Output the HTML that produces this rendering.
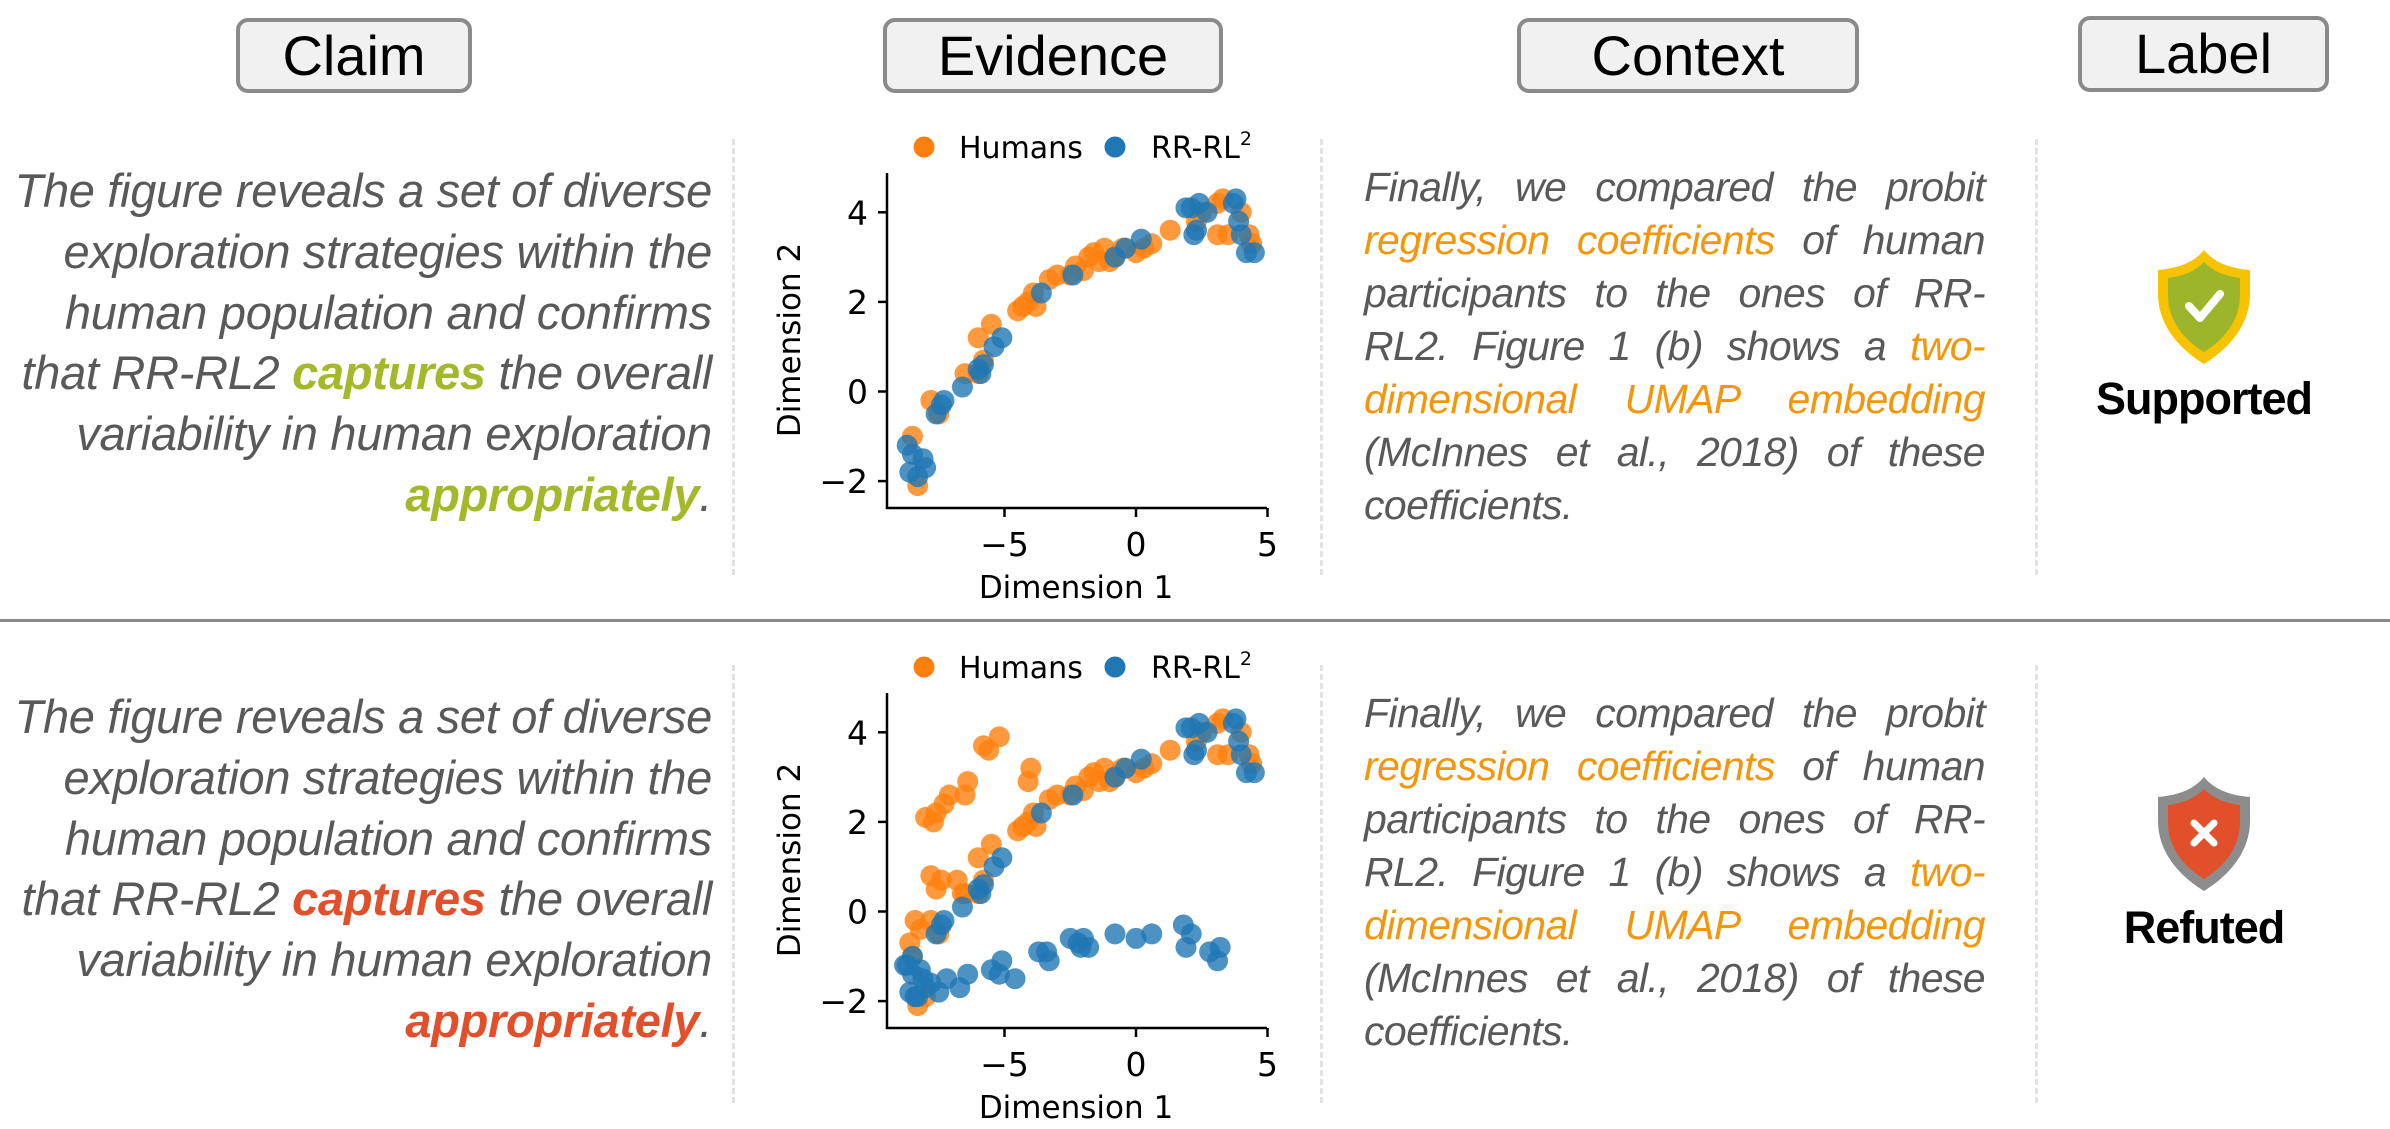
<!DOCTYPE html>
<html><head><meta charset="utf-8"><style>
body{margin:0;width:2390px;height:1129px;background:#fff;position:relative;overflow:hidden;font-family:"Liberation Sans",sans-serif}
.hb{position:absolute;box-sizing:border-box;border:4px solid #8a8a8a;border-radius:12px;background:#f1f1f1;text-align:center;font-size:56px;line-height:68px;color:#000}
.dash{position:absolute;width:0;border-left:3px dashed #e2e2e2}
.claim{position:absolute;right:1678px;font-style:italic;font-size:47px;color:#595959;letter-spacing:-0.3px;white-space:nowrap;line-height:60px}
.g{color:#a4b82a;font-weight:bold}.r{color:#e2502b;font-weight:bold}
.ctx{position:absolute;left:1364px;width:621px;font-style:italic;font-size:41px;color:#595959;line-height:53px;letter-spacing:-0.6px}
.ctx div{text-align:justify;text-align-last:justify;white-space:nowrap;height:53px}
.ctx div.l{text-align-last:left}
.o{color:#f3960b}
.lab{position:absolute;width:300px;left:2054px;text-align:center;font-weight:bold;font-size:45px;letter-spacing:-1px;color:#000}
</style></head><body>
<div class="hb" style="left:236px;top:18px;width:236px;height:75px">Claim</div>
<div class="hb" style="left:883px;top:18px;width:340px;height:75px">Evidence</div>
<div class="hb" style="left:1517px;top:18px;width:342px;height:75px">Context</div>
<div class="hb" style="left:2078px;top:16px;width:251px;height:76px">Label</div>

<div class="dash" style="left:732px;top:139px;height:436px"></div>
<div class="dash" style="left:1320px;top:139px;height:436px"></div>
<div class="dash" style="left:2035px;top:139px;height:436px"></div>
<div class="dash" style="left:732px;top:665px;height:438px"></div>
<div class="dash" style="left:1320px;top:665px;height:438px"></div>
<div class="dash" style="left:2035px;top:665px;height:438px"></div>
<div style="position:absolute;left:0;top:619px;width:2390px;height:3px;background:#8a8a8a"></div>

<div id="c1"></div><div id="c2"></div>

<svg style="position:absolute;left:2156px;top:248px" width="96" height="118" viewBox="0 0 96 118">
<path d="M48 2 C58 14 72 20 94 22 L94 46 C94 76 74 100 48 116 C22 100 2 76 2 46 L2 22 C24 20 38 14 48 2Z" fill="#f7c300"/>
<path d="M48 14 C57 23 68 28 84 30 L84 48 C84 72 68 92 48 104 C28 92 12 72 12 48 L12 30 C28 28 39 23 48 14Z" fill="#9db52b"/>
<path d="M33 58 L44 70 L64 46" stroke="#fff" stroke-width="8" fill="none" stroke-linecap="round" stroke-linejoin="round"/>
</svg>
<div class="lab" style="top:373px">Supported</div>
<svg style="position:absolute;left:2156px;top:775px" width="96" height="118" viewBox="0 0 96 118">
<path d="M48 2 C58 14 72 20 94 22 L94 46 C94 76 74 100 48 116 C22 100 2 76 2 46 L2 22 C24 20 38 14 48 2Z" fill="#8c8c8c"/>
<path d="M48 14 C57 23 68 28 84 30 L84 48 C84 72 68 92 48 104 C28 92 12 72 12 48 L12 30 C28 28 39 23 48 14Z" fill="#e2502b"/>
<path d="M38 48 L58 68 M58 48 L38 68" stroke="#fff" stroke-width="7" stroke-linecap="round"/>
</svg>
<div class="lab" style="top:902px">Refuted</div>

<script>
function claim(top,cls){
 var L=["The figure reveals a set of diverse","exploration strategies within the","human population and confirms",
 'that RR-RL2 <span class="'+cls+'">captures</span> the overall',"variability in human exploration",
 '<span class="'+cls+'">appropriately</span>.'];
 for(var i=0;i<6;i++){document.write('<div class="claim" style="top:'+(top+i*60.8-30)+'px">'+L[i]+'</div>');}
}
claim(191,'g');claim(717,'r');
function ctx(top){
 var L=['Finally, we compared the probit','<span class="o">regression coefficients</span> of human','participants to the ones of RR-',
 'RL2. Figure 1 (b) shows a <span class="o">two-</span>','<span class="o">dimensional UMAP embedding</span>','(McInnes et al., 2018) of these'];
 var h='<div class="ctx" style="top:'+(top-26)+'px">';
 for(var i=0;i<6;i++)h+='<div>'+L[i]+'</div>';
 h+='<div class="l">coefficients.</div></div>';document.write(h);
}
ctx(187);ctx(713);

var H=[[-8.3,-2.1],[-8.5,-1],[-7.8,-0.2],[-7.5,-0.5],[-6.5,0.4],[-6,0.4],[-5.8,0.7],[-6,1.2],[-5.5,1.5],[-4.5,1.8],[-4.3,1.9],[-4.1,2],[-3.9,2.2],[-3.8,1.9],[-3.3,2.5],[-3,2.6],[-2.5,2.6],[-2.3,2.8],[-2,2.7],[-1.8,3],[-1.6,3.1],[-1.4,2.9],[-1.2,3.2],[-1,2.9],[-0.8,3],[-0.5,3.2],[0,3.1],[0.3,3.2],[0.6,3.3],[1.3,3.6],[2.3,3.8],[3.1,3.5],[3.3,4.3],[3.1,4.2],[3.5,3.5],[4,4],[4.3,3.5],[4.4,3.3],[2.5,4]];
var B=[[-8.7,-1.2],[-8.5,-1.4],[-8.6,-1.8],[-8.3,-1.9],[-8,-1.7],[-8.1,-1.5],[-7.6,-0.5],[-7.4,-0.3],[-7.3,-0.2],[-6.6,0.1],[-6,0.5],[-5.9,0.4],[-5.8,0.6],[-5.4,1],[-5.1,1.2],[-3.6,2.2],[-2.4,2.6],[-0.8,3],[-0.4,3.2],[0.2,3.4],[1.9,4.1],[2.1,4.1],[2.3,3.6],[2.4,4.2],[2.7,4],[2.2,3.5],[3.7,4.2],[3.8,4.3],[3.9,3.8],[4,3.5],[4.2,3.1],[4.5,3.1]];
var H2=[[-8,2.1],[-7.6,2.2],[-7.3,2.4],[-7.1,2.6],[-6.5,2.6],[-6.4,2.9],[-5.8,3.7],[-5.6,3.6],[-5.2,3.9],[-4.1,2.9],[-4,3.2],[-7.8,0.8],[-7.4,0.7],[-7.6,0.5],[-6.8,0.7],[-6.6,0.4],[-8.6,-0.7],[-8.4,-0.2],[-8.2,-0.4],[-8,-1.9],[-7.7,2.0]];
var B2=[[-8.8,-1.2],[-8.5,-1],[-8.2,-1.3],[-8.4,-1.9],[-7.8,-1.6],[-7.5,-1.8],[-7.2,-1.5],[-6.7,-1.7],[-6.4,-1.4],[-5.5,-1.3],[-5.1,-1.1],[-5.2,-1.4],[-4.6,-1.5],[-3.7,-0.9],[-3.4,-0.9],[-3.3,-1.1],[-2.5,-0.6],[-2.2,-0.7],[-2,-0.6],[-1.8,-0.8],[-2.1,-0.8],[-0.8,-0.5],[0,-0.6],[0.6,-0.5],[1.8,-0.3],[2.1,-0.5],[1.9,-0.8],[2.8,-0.9],[3.2,-0.8],[3.1,-1.1]];
function chart(id,dy,hs,bs){
 var X=function(v){return 1136+v*26.3},Y=function(v){return 391.5+dy-v*44.8};
 var s='<svg style="position:absolute;left:0;top:0" width="2390" height="1129" font-family="DejaVu Sans, sans-serif">';
 s+='<circle cx="924" cy="'+(147+dy)+'" r="10.5" fill="#ff7f0e"/><text x="959" y="'+(158+dy)+'" font-size="30">Humans</text>';
 s+='<circle cx="1115" cy="'+(147+dy)+'" r="10.5" fill="#1f77b4"/><text x="1151" y="'+(158+dy)+'" font-size="30">RR-RL<tspan font-size="19" dy="-13">2</tspan></text>';
 for(var i=0;i<hs.length;i++)s+='<circle cx="'+X(hs[i][0])+'" cy="'+Y(hs[i][1])+'" r="10.5" fill="#ff7f0e" fill-opacity="0.8"/>';
 for(var i=0;i<bs.length;i++)s+='<circle cx="'+X(bs[i][0])+'" cy="'+Y(bs[i][1])+'" r="10.5" fill="#1f77b4" fill-opacity="0.8"/>';
 s+='<path d="M887 '+(173+dy)+' V'+(508+dy)+' H1267" stroke="#000" stroke-width="2.5" fill="none"/>';
 [-5,0,5].forEach(function(t){s+='<line x1="'+X(t)+'" x2="'+X(t)+'" y1="'+(508+dy)+'" y2="'+(517+dy)+'" stroke="#000" stroke-width="2.5"/><text x="'+X(t)+'" y="'+(556+dy)+'" font-size="33" text-anchor="middle">'+(t<0?'\u2212'+(-t):t)+'</text>';});
 [-2,0,2,4].forEach(function(t){s+='<line x1="878" x2="887" y1="'+Y(t)+'" y2="'+Y(t)+'" stroke="#000" stroke-width="2.5"/><text x="868" y="'+(Y(t)+12)+'" font-size="33" text-anchor="end">'+(t<0?'\u2212'+(-t):t)+'</text>';});
 s+='<text x="1076" y="'+(598+dy)+'" font-size="31" text-anchor="middle">Dimension 1</text>';
 s+='<text transform="translate(800,'+(340+dy)+') rotate(-90)" font-size="31" text-anchor="middle">Dimension 2</text>';
 s+='</svg>';document.getElementById(id).innerHTML=s;
}
chart('c1',0,H,B);chart('c2',520,H.concat(H2),B.concat(B2));
</script>
</body></html>
